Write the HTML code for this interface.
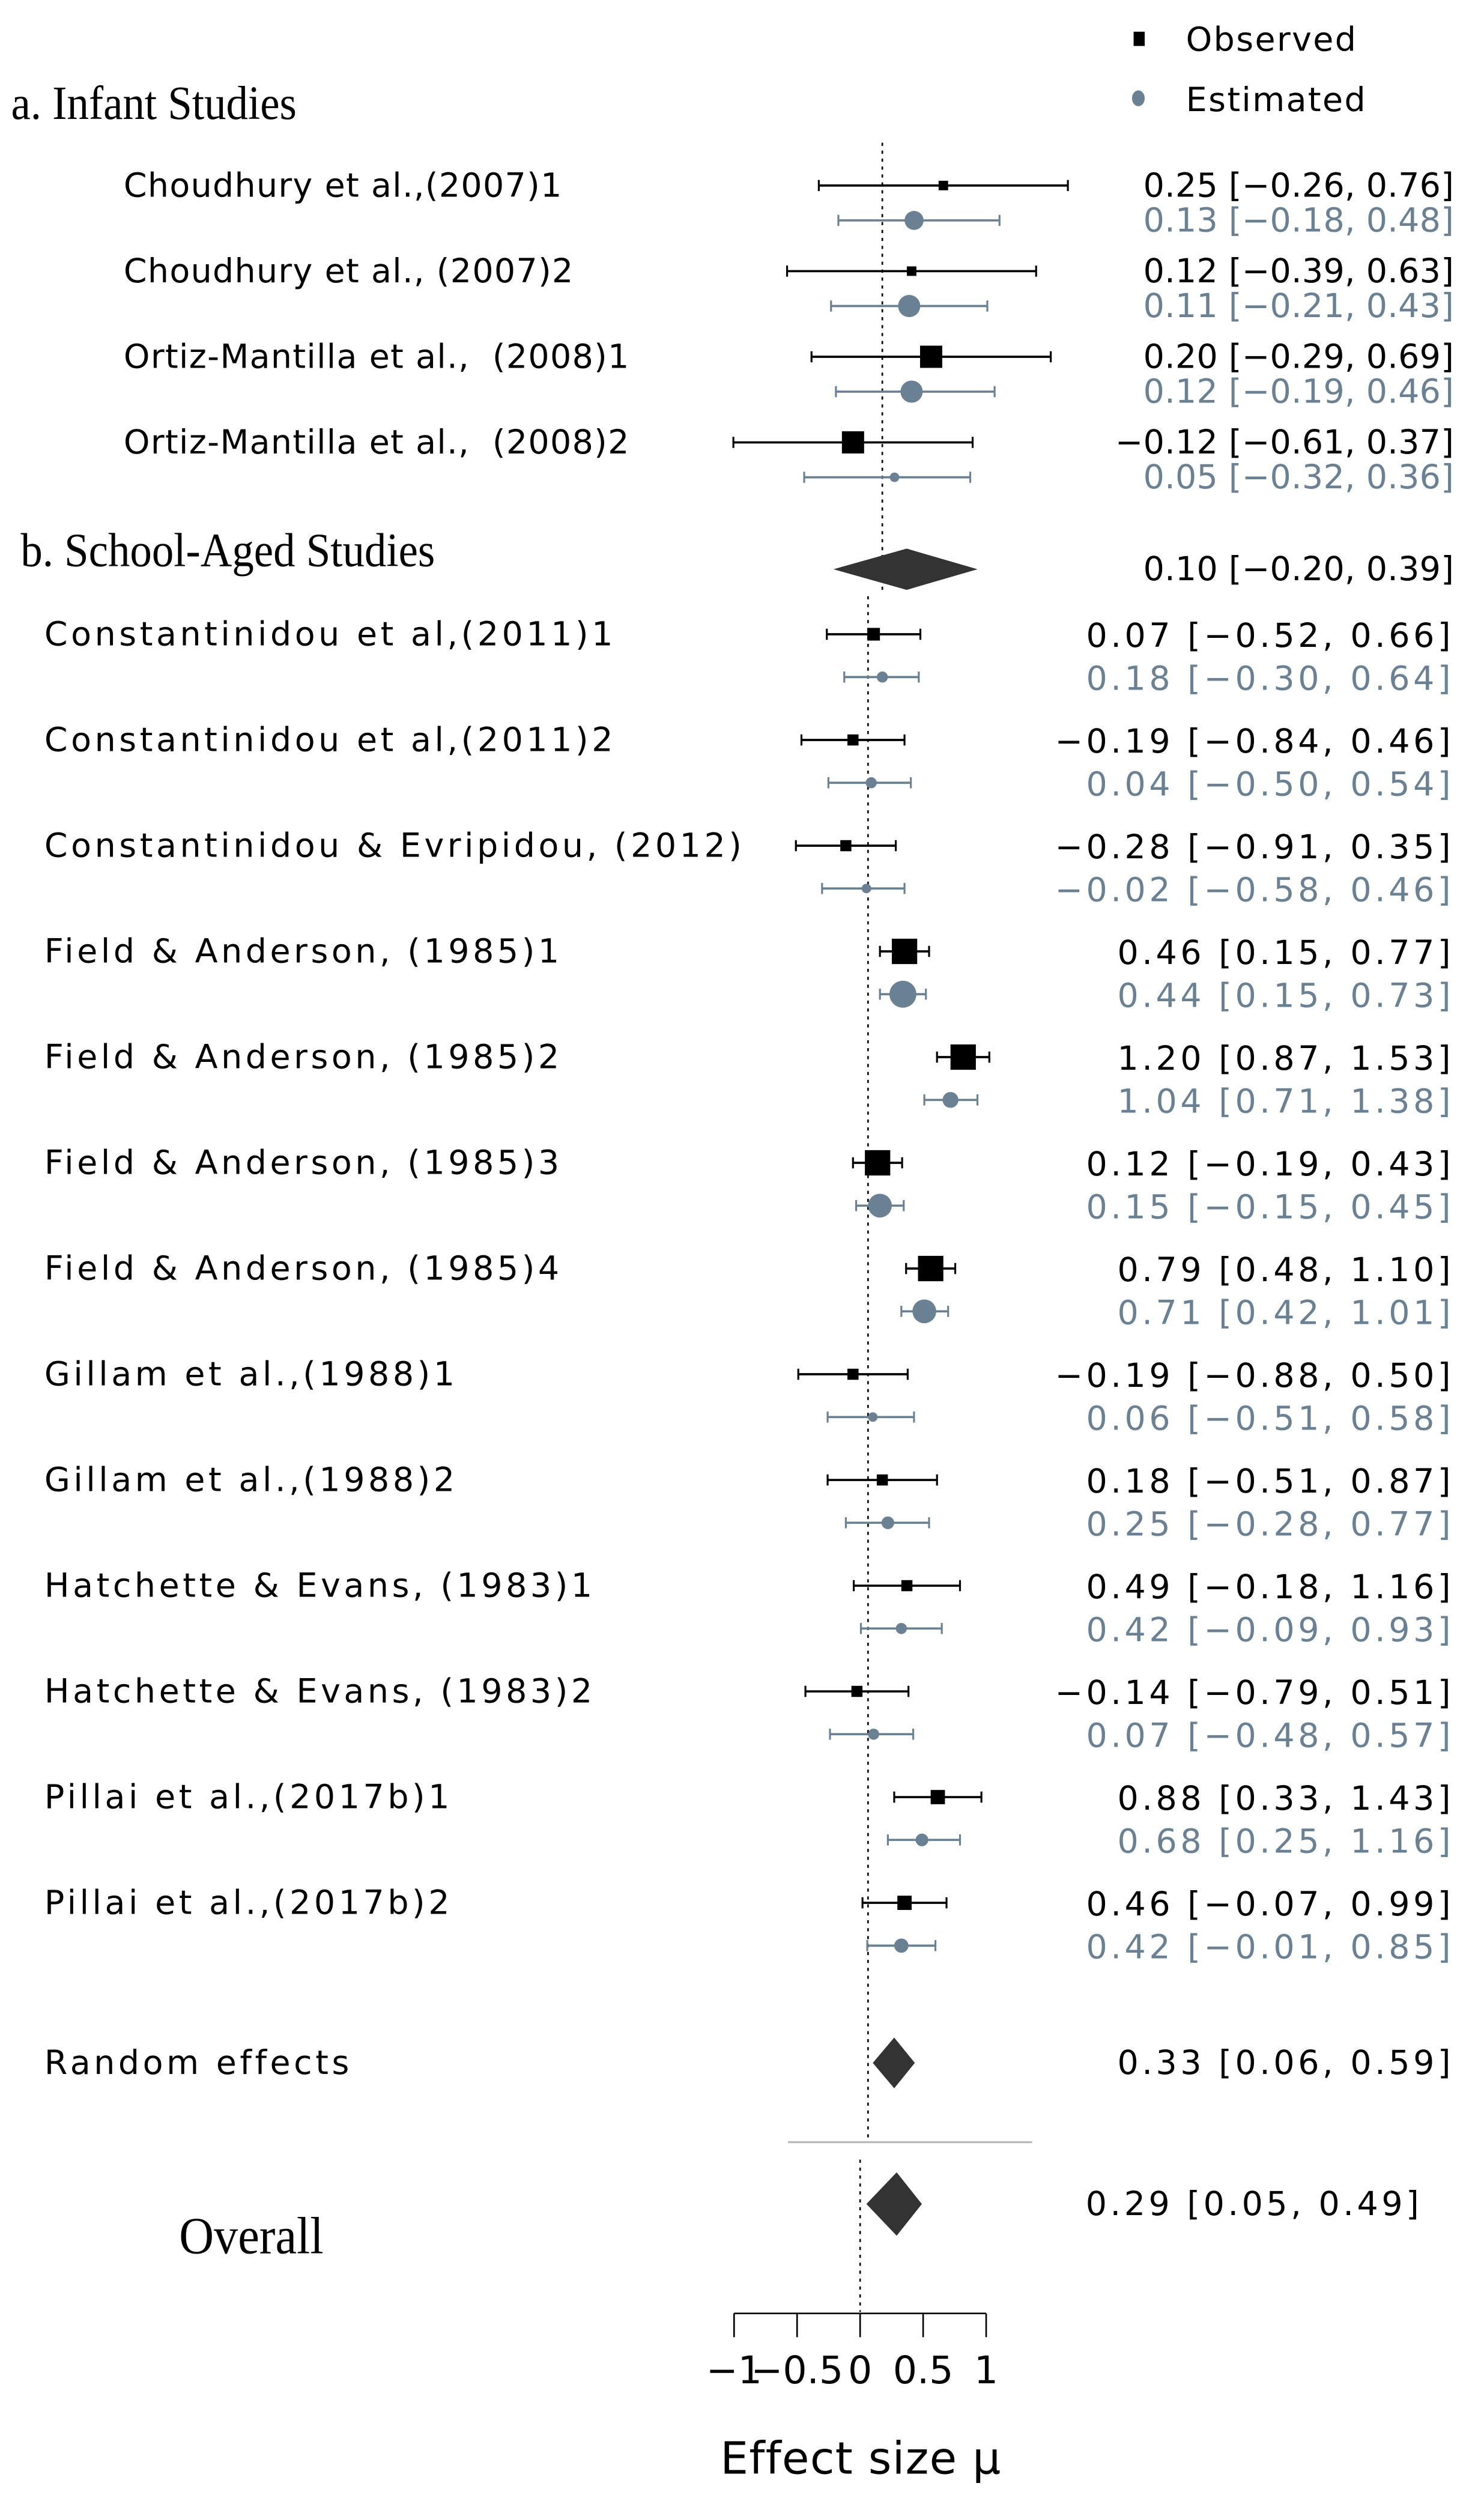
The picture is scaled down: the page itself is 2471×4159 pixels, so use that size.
<!DOCTYPE html>
<html><head><meta charset="utf-8"><style>
html,body{margin:0;padding:0;background:#fff;}
svg{display:block;}
text{white-space:pre;}
</style></head><body>
<svg id="chart" xmlns="http://www.w3.org/2000/svg" width="2471" height="4159" viewBox="0 0 936 1575.4" preserveAspectRatio="none">
<g id="legend">
  <rect x="715" y="20" width="7" height="9" fill="#000"/>
  <text x="748" y="32" font-family="DejaVu Sans, Liberation Sans, sans-serif" font-size="21" letter-spacing="0.9" fill="#000">Observed</text>
  <ellipse cx="718" cy="62" rx="4" ry="5" fill="#6a8093"/>
  <text x="748" y="70" font-family="DejaVu Sans, Liberation Sans, sans-serif" font-size="21" letter-spacing="0.9" fill="#000">Estimated</text>
</g>
<text x="7" y="75" font-family="Liberation Serif, serif" font-size="30" fill="#000" transform="scale(0.92,1)" style="transform-origin:7px 75px">a. Infant Studies</text>
<text x="13" y="357" font-family="Liberation Serif, serif" font-size="30" fill="#000" transform="scale(0.92,1)" style="transform-origin:13px 357px">b. School-Aged Studies</text>
<text x="113" y="1421" font-family="Liberation Serif, serif" font-size="33" fill="#000" transform="scale(0.92,1)" style="transform-origin:113px 1421px">Overall</text>
<g id="marks"></g>
</svg>
<script>
// ---- Infant studies data ----
const infantLabels = ["Choudhury et al.,(2007)1","Choudhury et al., (2007)2","Ortiz-Mantilla et al.,  (2008)1","Ortiz-Mantilla et al.,  (2008)2"];
const infantObs = [0.25,0.12,0.20,-0.12];
const infantObsLo = [-0.26,-0.39,-0.29,-0.61];
const infantObsHi = [0.76,0.63,0.69,0.37];
const infantObsW = [6,6,14,14];
const infantEst = [0.13,0.11,0.12,0.05];
const infantEstLo = [-0.18,-0.21,-0.19,-0.32];
const infantEstHi = [0.48,0.43,0.46,0.36];
const infantEstW = [12,14,14,6];
const infantSummary = [0.10,-0.20,0.39];
// ---- School-aged studies data ----
const schoolLabels = ["Constantinidou et al,(2011)1","Constantinidou et al,(2011)2","Constantinidou & Evripidou, (2012)","Field & Anderson, (1985)1","Field & Anderson, (1985)2","Field & Anderson, (1985)3","Field & Anderson, (1985)4","Gillam et al.,(1988)1","Gillam et al.,(1988)2","Hatchette & Evans, (1983)1","Hatchette & Evans, (1983)2","Pillai et al.,(2017b)1","Pillai et al.,(2017b)2"];
const schoolObs = [0.07,-0.19,-0.28,0.46,1.20,0.12,0.79,-0.19,0.18,0.49,-0.14,0.88,0.46];
const schoolObsLo = [-0.52,-0.84,-0.91,0.15,0.87,-0.19,0.48,-0.88,-0.51,-0.18,-0.79,0.33,-0.07];
const schoolObsHi = [0.66,0.46,0.35,0.77,1.53,0.43,1.10,0.50,0.87,1.16,0.51,1.43,0.99];
const schoolObsW = [8,7,7,16,16,16,16,7,7,7,7,9,9];
const schoolEst = [0.18,0.04,-0.02,0.44,1.04,0.15,0.71,0.06,0.25,0.42,0.07,0.68,0.42];
const schoolEstLo = [-0.30,-0.50,-0.58,0.15,0.71,-0.15,0.42,-0.51,-0.28,-0.09,-0.48,0.25,-0.01];
const schoolEstHi = [0.64,0.54,0.46,0.73,1.38,0.45,1.01,0.58,0.77,0.93,0.57,1.16,0.85];
const schoolEstW = [7,7,6,17,10,15,15,6,8,7,7,8,9];
const randomEffects = [0.33,0.06,0.59];
const overallEffect = [0.29,0.05,0.49];
const axisTicks = [-1,-0.5,0,0.5,1];
const axisTickLabels = ["−1","−0.5","0","0.5","1"];

const NS="http://www.w3.org/2000/svg";
const g=document.getElementById('marks');
const SANS="DejaVu Sans, Liberation Sans, sans-serif";
const GREY="#6a8093";
function mk(tag,attrs,parent){const e=document.createElementNS(NS,tag);for(const k in attrs)e.setAttribute(k,attrs[k]);(parent||g).appendChild(e);return e;}
const fmt=v=>(v<0?"−":"")+Math.abs(v).toFixed(2);
const xInf=v=>556.5+v*154;
const xSch=v=>547.5+v*50;
const xAll=v=>542.5+v*79.5;

function ci(xf,y,lo,hi,color,w,name){
  const l=mk('line',{x1:xf(lo),x2:xf(hi),y1:y,y2:y,stroke:color,'stroke-width':1.4});
  
  
  [lo,hi].forEach(v=>{const c=mk('line',{x1:xf(v),x2:xf(v),y1:y-3.5,y2:y+3.5,stroke:color,'stroke-width':1.2});
    
    });
}
function sq(xf,y,v,w,name){
  const r=mk('rect',{x:xf(v)-w/2,y:y-w/2,width:w,height:w,fill:'#000'});
  
  
}
function dot(xf,y,v,w,name){
  const c=mk('ellipse',{cx:xf(v),cy:y,rx:w/2,ry:w/2,fill:GREY});
  
  
}
function txt(x,y,s,color,anchor,name,size,ls){
  const sp=(ls===undefined)?2.1:ls;
  const t=mk('text',{x:(anchor==='end')?x+sp:x,y:y,fill:color,'font-family':SANS,'font-size':size||21,'text-anchor':anchor||'start','letter-spacing':sp});
  t.textContent=s;
  
  
  return t;
}
function diamond(xf,y,c,lo,hi,h,name){
  const p=mk('polygon',{points:`${xf(lo)},${y} ${xf(c)},${y-h} ${xf(hi)},${y} ${xf(c)},${y+h}`,fill:'#333'});
  
  
}
function vline(x,y1,y2,name){
  const l=mk('line',{x1:x,x2:x,y1:y1,y2:y2,stroke:'#000','stroke-width':1,'stroke-dasharray':'2,3'});
  
  
}
// Infant
vline(xInf(0),90,372,'infant-zero-line');
infantLabels.forEach((lab,i)=>{
  const y=117+i*54;
  txt(78,y+7,lab,'#000','start','infant-study-label',21,0.5);
  ci(xInf,y,infantObsLo[i],infantObsHi[i],'#000',1,'infant-study');
  sq(xInf,y,infantObs[i],infantObsW[i],'infant-study');
  ci(xInf,y+22,infantEstLo[i],infantEstHi[i],GREY,1,'infant-study');
  dot(xInf,y+22,infantEst[i],infantEstW[i],'infant-study');
  txt(917,y+7,`${fmt(infantObs[i])} [${fmt(infantObsLo[i])}, ${fmt(infantObsHi[i])}]`,'#000','end','infant-observed-value',21,0.1);
  txt(917,y+29,`${fmt(infantEst[i])} [${fmt(infantEstLo[i])}, ${fmt(infantEstHi[i])}]`,GREY,'end','infant-estimated-value',21,0.1);
});
diamond(xInf,359,infantSummary[0],infantSummary[1],infantSummary[2],13,'infant-summary-diamond');
txt(917,366,`${fmt(infantSummary[0])} [${fmt(infantSummary[1])}, ${fmt(infantSummary[2])}]`,'#000','end','infant-summary-value',21,0.1);
// School
vline(xSch(0),376,1348,'school-zero-line');
schoolLabels.forEach((lab,i)=>{
  const y=400+i*66.67;
  txt(28,y+7,lab,'#000','start','school-study-label');
  ci(xSch,y,schoolObsLo[i],schoolObsHi[i],'#000',1,'school-study');
  sq(xSch,y,schoolObs[i],schoolObsW[i],'school-study');
  ci(xSch,y+27,schoolEstLo[i],schoolEstHi[i],GREY,1,'school-study');
  dot(xSch,y+27,schoolEst[i],schoolEstW[i],'school-study');
  txt(915,y+8,`${fmt(schoolObs[i])} [${fmt(schoolObsLo[i])}, ${fmt(schoolObsHi[i])}]`,'#000','end','school-observed-value');
  txt(915,y+35,`${fmt(schoolEst[i])} [${fmt(schoolEstLo[i])}, ${fmt(schoolEstHi[i])}]`,GREY,'end','school-estimated-value');
});
txt(28,1308,'Random effects','#000','start','random-effects-label');
diamond(xSch,1301,randomEffects[0],randomEffects[1],randomEffects[2],16,'random-effects-diamond');
txt(915,1308,`${fmt(randomEffects[0])} [${fmt(randomEffects[1])}, ${fmt(randomEffects[2])}]`,'#000','end','random-effects-value');
const sep=mk('line',{x1:497,x2:651,y1:1351,y2:1351,stroke:'#bbb','stroke-width':1.3});


// Overall
vline(xAll(0),1362,1458,'overall-zero-line');
diamond(xAll,1390,overallEffect[0],overallEffect[1],overallEffect[2],20,'overall-diamond');
txt(895,1397,`${fmt(overallEffect[0])} [${fmt(overallEffect[1])}, ${fmt(overallEffect[2])}]`,'#000','end','overall-value');
// Axis
const ax=mk('line',{x1:xAll(axisTicks[0]),x2:xAll(axisTicks[axisTicks.length-1]),y1:1459,y2:1459,stroke:'#000','stroke-width':1});


axisTicks.forEach((v,i)=>{
  const t=mk('line',{x1:xAll(v),x2:xAll(v),y1:1459,y2:1474,stroke:'#000','stroke-width':1});
  
  
  txt(xAll(v),1503,axisTickLabels[i],'#000','middle','x-axis-tick-label',24,0);
});
txt(543,1560,'Effect size μ','#000','middle','x-axis-title',28,0.5);
</script>
</body></html>
